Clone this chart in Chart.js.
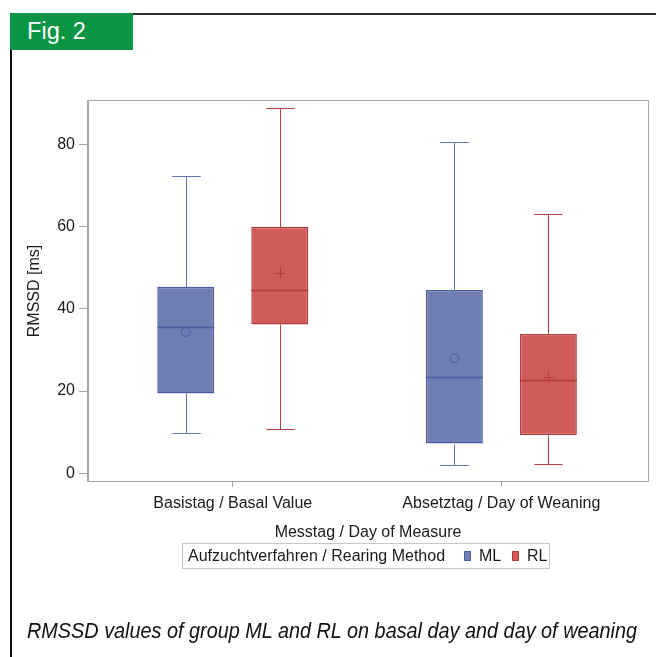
<!DOCTYPE html>
<html>
<head>
<meta charset="utf-8">
<script src="https://cdn.jsdelivr.net/npm/chart.js@4.4.1/dist/chart.umd.min.js"></script>
<style>
  html, body { margin: 0; padding: 0; background: #fff; }
  #wrap { position: relative; width: 656px; height: 657px; overflow: hidden; font-family: "Liberation Sans", Arial, sans-serif; color: #1a1a1a; }
  #chart { position: absolute; left: 0; top: 0; }
  .frame-l { position: absolute; left: 10px; top: 13px; width: 2px; height: 644px; background: #111; }
  .frame-t { position: absolute; left: 133px; top: 13px; width: 523px; height: 2px; background: #333; }
  .fig { position: absolute; left: 10px; top: 13px; width: 123px; height: 37px; background: #0a9444; }
  .fig span { position: absolute; left: 17px; top: 5px; color: #fff; font-family: "Liberation Sans Narrow", "Liberation Sans", sans-serif; font-size: 23px; line-height: 26px; white-space: nowrap; transform-origin: 0 50%; }
  .caption { position: absolute; left: 27px; top: 618px; font-style: italic; font-family: "Liberation Sans Narrow", "Liberation Sans", sans-serif; font-size: 22px; line-height: 26px; white-space: nowrap; color: #111; transform-origin: 0 50%; }
  .legend { position: absolute; left: 182px; top: 543px; width: 368px; height: 26px; border: 1px solid #c8c8c8; box-sizing: border-box; font-size: 16px; }
  .legend .t { position: absolute; top: 3px; line-height: 18px; white-space: nowrap; }
  .legend .sw { position: absolute; top: 7px; width: 7px; height: 10px; box-sizing: border-box; }
</style>
</head>
<body>
<div id="wrap">
  <canvas id="chart" width="656" height="657"></canvas>
  <div class="frame-l"></div>
  <div class="frame-t"></div>
  <div class="fig"><span id="figText">Fig. 2</span></div>
  <div class="legend">
    <span class="t" style="left:5px">Aufzuchtverfahren / Rearing Method</span>
    <span class="sw" style="left:281px;background:#6e7db2;border:1px solid #4b5c9e"></span>
    <span class="t" style="left:296px">ML</span>
    <span class="sw" style="left:329px;background:#d05b5b;border:1px solid #b23b37"></span>
    <span class="t" style="left:344px">RL</span>
  </div>
  <div class="caption" id="caption">RMSSD values of group ML and RL on basal day and day of weaning</div>
</div>
<script>
const categories = ['Basistag / Basal Value', 'Absetztag / Day of Weaning'];
const groups = ['ML', 'RL'];

const mlMin = [9.8, 2.0];
const mlQ1 = [19.4, 7.2];
const mlMedian = [35.5, 23.4];
const mlQ3 = [45.4, 44.6];
const mlMax = [72.3, 80.6];
const mlMean = [34.4, 28.0];

const rlMin = [10.8, 2.3];
const rlQ1 = [36.2, 9.3];
const rlMedian = [44.7, 22.7];
const rlQ3 = [60.0, 33.9];
const rlMax = [88.9, 63.2];
const rlMean = [48.7, 23.4];

const yTicks = [0, 20, 40, 60, 80];

const series = [
  { label: groups[0], min: mlMin, q1: mlQ1, median: mlMedian, q3: mlQ3, max: mlMax, mean: mlMean,
    fill: '#6e7db2', line: '#4b5c9e', whisker: '#6473b0', meanMark: 'circle' },
  { label: groups[1], min: rlMin, q1: rlQ1, median: rlMedian, q3: rlQ3, max: rlMax, mean: rlMean,
    fill: '#d05b5b', line: '#b23b37', whisker: '#b5423e', meanMark: 'plus' }
];

const crisp = v => Math.round(v) + 0.5;

// whiskers, median, mean drawn on top of the floating bars
const boxPlot = {
  id: 'boxPlot',
  afterDatasetsDraw(chart) {
    const ctx = chart.ctx, y = chart.scales.y;
    chart.data.datasets.forEach((ds, di) => {
      const s = ds.stats;
      chart.getDatasetMeta(di).data.forEach((bar, i) => {
        const cx = crisp(bar.x), half = bar.width / 2, cap = bar.width / 4;
        const py = v => crisp(y.getPixelForValue(v));
        ctx.save();
        ctx.strokeStyle = s.whisker;
        ctx.lineWidth = 1;
        ctx.beginPath();
        ctx.moveTo(cx, py(s.q3[i])); ctx.lineTo(cx, py(s.max[i]));
        ctx.moveTo(cx, py(s.q1[i])); ctx.lineTo(cx, py(s.min[i]));
        ctx.moveTo(cx - cap, py(s.max[i])); ctx.lineTo(cx + cap, py(s.max[i]));
        ctx.moveTo(cx - cap, py(s.min[i])); ctx.lineTo(cx + cap, py(s.min[i]));
        ctx.stroke();

        ctx.strokeStyle = s.line;
        ctx.lineWidth = 1.5;
        ctx.beginPath();
        ctx.moveTo(bar.x - half, py(s.median[i]));
        ctx.lineTo(bar.x + half, py(s.median[i]));
        ctx.stroke();

        const my = y.getPixelForValue(s.mean[i]);
        ctx.lineWidth = 1;
        ctx.beginPath();
        if (s.meanMark === 'circle') {
          ctx.arc(bar.x, my, 4.5, 0, Math.PI * 2);
        } else {
          ctx.moveTo(bar.x - 5, crisp(my)); ctx.lineTo(bar.x + 5, crisp(my));
          ctx.moveTo(cx, my - 5); ctx.lineTo(cx, my + 5);
        }
        ctx.stroke();
        ctx.restore();
      });
    });
  }
};

const plotFrame = {
  id: 'plotFrame',
  afterDraw(chart) {
    const { left, top, right, bottom } = chart.chartArea;
    const ctx = chart.ctx;
    ctx.save();
    ctx.strokeStyle = '#a6a6a6';
    ctx.lineWidth = 1;
    ctx.strokeRect(crisp(left) - 1, crisp(top) - 1, Math.round(right - left) + 1, Math.round(bottom - top) + 1);
    ctx.restore();
  }
};

const font = { family: '"Liberation Sans", Arial, sans-serif', size: 16 };

new Chart(document.getElementById('chart'), {
  type: 'bar',
  data: {
    datasets: series.map(s => ({
      label: s.label,
      data: categories.map((c, i) => ({ x: i + 1, y: [s.q1[i], s.q3[i]] })),
      backgroundColor: s.fill,
      borderColor: s.line,
      borderWidth: 1.5,
      borderSkipped: false,
      categoryPercentage: 0.7,
      barPercentage: 0.606,
      stats: s
    }))
  },
  options: {
    responsive: false,
    animation: false,
    devicePixelRatio: 1,
    layout: { padding: { left: 21, top: 101, right: 8, bottom: 111 } },
    plugins: { legend: { display: false }, tooltip: { enabled: false } },
    scales: {
      x: {
        type: 'linear',
        offset: false,
        min: 0.461,
        max: 2.546,
        afterFit: s => { s.height = 65; },
        grid: { offset: false, drawOnChartArea: false, drawTicks: true, tickLength: 6, tickColor: '#a6a6a6' },
        border: { color: '#a6a6a6' },
        ticks: {
          stepSize: 1, includeBounds: false, autoSkip: false, maxRotation: 0, padding: 7,
          color: '#1a1a1a', font,
          callback: v => categories[v - 1] || ''
        },
        title: { display: true, text: 'Messtag / Day of Measure', color: '#1a1a1a', font }
      },
      y: {
        min: -1.9,
        max: 90.6,
        afterFit: s => { s.width = 67; },
        afterBuildTicks: s => { s.ticks = yTicks.map(v => ({ value: v })); },
        grid: { drawOnChartArea: false, drawTicks: true, tickLength: 9, tickColor: '#a6a6a6' },
        border: { color: '#a6a6a6' },
        ticks: { padding: 4, color: '#1a1a1a', font },
        title: { display: true, text: 'RMSSD [ms]', color: '#1a1a1a', font }
      }
    }
  },
  plugins: [boxPlot, plotFrame]
});

// squeeze the figure texts to the condensed widths seen in the reference
function fitWidth(el, target) {
  const w = el.getBoundingClientRect().width;
  el.style.transform = 'scaleX(' + (target / w).toFixed(4) + ')';
}
fitWidth(document.getElementById('caption'), 610);
fitWidth(document.getElementById('figText'), 59);
</script>
</body>
</html>
